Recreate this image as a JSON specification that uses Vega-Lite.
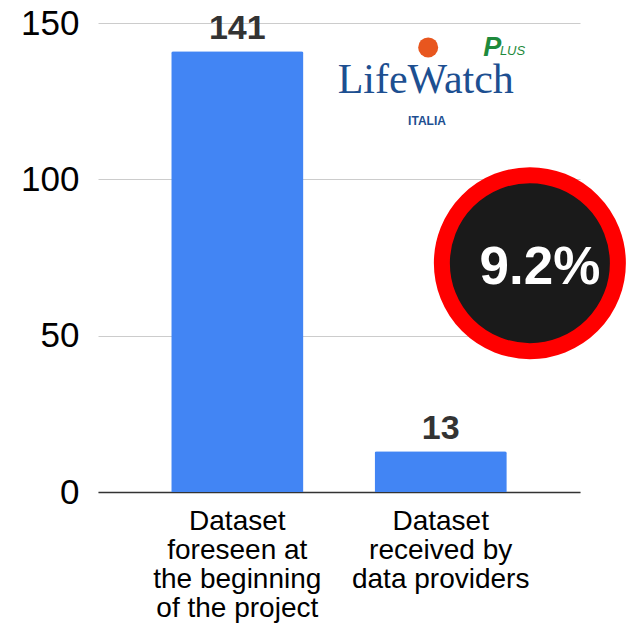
{
  "$schema": "https://vega.github.io/schema/vega-lite/v6.json",
  "width": 482,
  "height": 469,
  "autosize": {"type": "none"},
  "padding": {"left": 98, "top": 23, "right": 51, "bottom": 133},
  "background": "white",
  "config": {"view": {"stroke": null}, "font": "Liberation Sans"},
  "resolve": {"scale": {"x": "independent", "y": "independent"}, "axis": {"x": "independent", "y": "independent"}},
  "layer": [
    {
      "data": {"values": [
        {"category": "Dataset\nforeseen at\nthe beginning\nof the project", "value": 141},
        {"category": "Dataset\nreceived by\ndata providers", "value": 13}
      ]},
      "encoding": {
        "x": {
          "field": "category", "type": "nominal", "sort": null,
          "scale": {"paddingInner": 0.35, "paddingOuter": 0.36},
          "axis": {
            "title": null, "labelAngle": 0, "ticks": false,
            "labelExpr": "split(datum.label, '\\n')",
            "labelFontSize": 28, "labelLineHeight": 29, "labelColor": "#000000",
            "labelPadding": 15, "domainColor": "#333333", "domainWidth": 1.5,
            "labelFont": "Liberation Sans"
          }
        },
        "y": {
          "field": "value", "type": "quantitative",
          "scale": {"domain": [0, 150], "nice": false},
          "axis": {
            "title": null, "values": [0, 50, 100, 150], "domain": false, "ticks": false,
            "labelFontSize": 35, "labelColor": "#000000", "labelPadding": 19,
            "gridColor": "#cccccc", "gridWidth": 1, "labelFont": "Liberation Sans"
          }
        }
      },
      "layer": [
        {"mark": {"type": "bar", "color": "#4285f4", "cornerRadiusTopLeft": 2, "cornerRadiusTopRight": 2}},
        {
          "mark": {"type": "text", "dy": -12, "baseline": "alphabetic", "fontSize": 34, "fontWeight": "bold", "color": "#333333", "font": "Liberation Sans"},
          "encoding": {"text": {"field": "value", "type": "quantitative"}}
        }
      ]
    },
    {
      "encoding": {
        "x": {"field": "px", "type": "quantitative", "scale": {"domain": [0, 1], "nice": false, "zero": false}, "axis": null},
        "y": {"field": "value", "type": "quantitative", "scale": {"domain": [0, 150], "nice": false}, "axis": null}
      },
      "layer": [
        {
          "data": {"values": [{"px": 0.685, "value": 142.2}]},
          "mark": {"type": "point", "shape": "circle", "filled": true, "color": "#e8561e", "size": 400, "opacity": 1}
        },
        {
          "data": {"values": [{"px": 0.68, "value": 127.6, "label": "LifeWatch"}]},
          "mark": {"type": "text", "font": "Liberation Serif", "fontSize": 42, "color": "#1d4f91", "baseline": "alphabetic", "align": "center"},
          "encoding": {"text": {"field": "label"}}
        },
        {
          "data": {"values": [{"px": 0.6826, "value": 117.4, "label": "ITALIA"}]},
          "mark": {"type": "text", "font": "Liberation Sans", "fontSize": 12, "fontWeight": "bold", "color": "#1d4f91", "baseline": "alphabetic", "align": "center"},
          "encoding": {"text": {"field": "label"}}
        },
        {
          "data": {"values": [{"px": 0.818, "value": 139.5, "label": "P"}]},
          "mark": {"type": "text", "font": "Liberation Sans", "fontSize": 27, "fontWeight": "bold", "fontStyle": "italic", "color": "#1e8a3c", "baseline": "alphabetic", "align": "center"},
          "encoding": {"text": {"field": "label"}}
        },
        {
          "data": {"values": [{"px": 0.86, "value": 139.8, "label": "LUS"}]},
          "mark": {"type": "text", "font": "Liberation Sans", "fontSize": 13, "fontStyle": "italic", "color": "#1e8a3c", "baseline": "alphabetic", "align": "center"},
          "encoding": {"text": {"field": "label"}}
        },
        {
          "data": {"values": [{"px": 0.896, "value": 73.2}]},
          "mark": {"type": "point", "shape": "circle", "filled": true, "fill": "#1a1a1a", "fillOpacity": 1, "stroke": "#ff0000", "strokeWidth": 16, "strokeOpacity": 1, "size": 30976}
        },
        {
          "data": {"values": [{"px": 0.917, "value": 66.5, "label": "9.2%"}]},
          "mark": {"type": "text", "font": "Liberation Sans", "fontSize": 53, "fontWeight": "bold", "color": "#ffffff", "baseline": "alphabetic", "align": "center"},
          "encoding": {"text": {"field": "label"}}
        }
      ]
    }
  ]
}
